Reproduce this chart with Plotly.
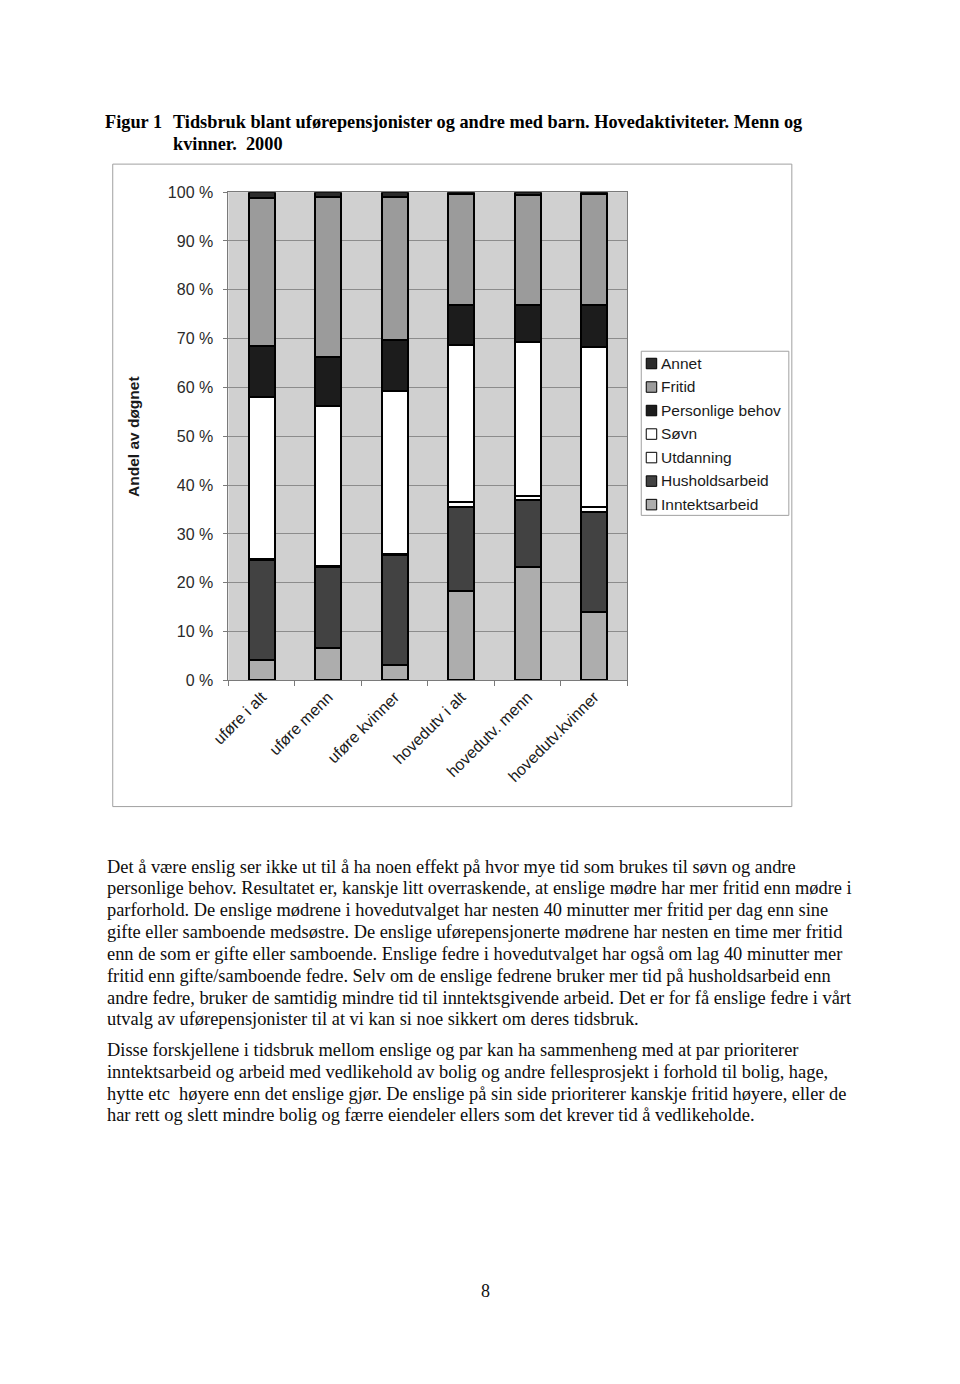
import plotly.graph_objects as go

W, H = 960, 1384
# empirical placement correction observed in the rendered page
SX, OX = 0.984, 15.0
SY, OY = 0.987, 8.0

categories = ["uføre i alt", "uføre menn", "uføre kvinner",
              "hovedutv i alt", "hovedutv. menn", "hovedutv.kvinner"]

inntektsarbeid = [4.2, 6.7, 3.1, 18.3, 23.2, 14.0]
husholdsarbeid = [20.4, 16.6, 22.5, 17.3, 13.8, 20.6]
utdanning = [0.3, 0.2, 0.2, 0.9, 0.7, 1.0]
sovn = [33.2, 32.8, 33.5, 32.2, 31.6, 32.7]
personlige_behov = [10.4, 10.0, 10.4, 8.1, 7.5, 8.5]
fritid = [30.3, 32.7, 29.3, 22.8, 22.7, 22.9]
annet = [1.2, 1.0, 1.0, 0.4, 0.5, 0.3]

series_names = ["Inntektsarbeid", "Husholdsarbeid", "Utdanning", "Søvn",
                "Personlige behov", "Fritid", "Annet"]
series_values = [inntektsarbeid, husholdsarbeid, utdanning, sovn,
                 personlige_behov, fritid, annet]
series_colors = ["#adadad", "#424242", "#ffffff", "#ffffff",
                 "#1c1c1c", "#9b9b9b", "#2c2c2c"]

y_ticks = [0, 10, 20, 30, 40, 50, 60, 70, 80, 90, 100]
y_ticktext = [f"{v} %" for v in y_ticks]

title_label = "Figur 1"
title_line1 = "Tidsbruk blant uførepensjonister og andre med barn. Hovedaktiviteter. Menn og"
title_line2 = "kvinner.  2000"
y_title = "Andel av døgnet"

body_lines = [
    "Det å være enslig ser ikke ut til å ha noen effekt på hvor mye tid som brukes til søvn og andre",
    "personlige behov. Resultatet er, kanskje litt overraskende, at enslige mødre har mer fritid enn mødre i",
    "parforhold. De enslige mødrene i hovedutvalget har nesten 40 minutter mer fritid per dag enn sine",
    "gifte eller samboende medsøstre. De enslige uførepensjonerte mødrene har nesten en time mer fritid",
    "enn de som er gifte eller samboende. Enslige fedre i hovedutvalget har også om lag 40 minutter mer",
    "fritid enn gifte/samboende fedre. Selv om de enslige fedrene bruker mer tid på husholdsarbeid enn",
    "andre fedre, bruker de samtidig mindre tid til inntektsgivende arbeid. Det er for få enslige fedre i vårt",
    "utvalg av uførepensjonister til at vi kan si noe sikkert om deres tidsbruk.",
    "Disse forskjellene i tidsbruk mellom enslige og par kan ha sammenheng med at par prioriterer",
    "inntektsarbeid og arbeid med vedlikehold av bolig og andre fellesprosjekt i forhold til bolig, hage,",
    "hytte etc  høyere enn det enslige gjør. De enslige på sin side prioriterer kanskje fritid høyere, eller de",
    "har rett og slett mindre bolig og færre eiendeler ellers som det krever tid å vedlikeholde.",
]
body_y = [866, 887, 909, 931, 953, 975, 997, 1018, 1049, 1071, 1093, 1114]


def px(x):
    return ((x - OX) / SX) / W


def py(y):
    return 1 - ((y - OY) / SY) / H


SERIF = "Liberation Serif, Times New Roman, serif"
SANS = "Liberation Sans, Arial, sans-serif"

fig = go.Figure()
for name, vals, col in zip(series_names, series_values, series_colors):
    fig.add_trace(go.Bar(
        x=categories, y=vals, name=name,
        marker=dict(color=col, line=dict(color="#000000", width=2)),
        width=0.39, showlegend=False,
    ))

plot_l, plot_r, plot_t, plot_b = 226, 626, 192, 680

shapes = [
    dict(type="rect", xref="paper", yref="paper",
         x0=px(110), x1=px(791), y0=py(806), y1=py(164),
         line=dict(color="#a0a0a0", width=1), fillcolor="rgba(0,0,0,0)",
         layer="below"),
    dict(type="rect", xref="paper", yref="paper",
         x0=px(640), x1=px(788), y0=py(515), y1=py(351),
         line=dict(color="#a0a0a0", width=1), fillcolor="#ffffff"),
]

ann = []
leg_y0, leg_step = 363, 23.5
for i, (name, col) in enumerate(zip(reversed(series_names), reversed(series_colors))):
    cy = leg_y0 + i * leg_step
    shapes.append(dict(type="rect", xref="paper", yref="paper",
                       x0=px(645), x1=px(655.5), y0=py(cy + 5.5), y1=py(cy - 5),
                       line=dict(color="#000000", width=1), fillcolor=col))
    ann.append(dict(text=name, x=px(658), y=py(cy), xanchor="left", yanchor="middle",
                    xref="paper", yref="paper", showarrow=False,
                    font=dict(family=SANS, size=15.5, color="#1a1a1a")))

fig.update_layout(
    width=W, height=H, autosize=False,
    margin=dict(l=0, r=0, t=0, b=0),
    paper_bgcolor="#ffffff",
    plot_bgcolor="#d0d0d0",
    barmode="stack",
    showlegend=False,
    xaxis=dict(
        domain=[px(plot_l), px(plot_r)],
        tickangle=-45,
        tickfont=dict(family=SANS, size=16, color="#1a1a1a"),
        showline=True, linecolor="#7a7a7a", linewidth=1, mirror=True,
        ticks="outside", tickson="boundaries", ticklen=5, tickcolor="#7a7a7a",
        showgrid=False, fixedrange=True,
    ),
    yaxis=dict(
        domain=[py(plot_b), py(plot_t)],
        range=[0, 100], tickmode="array", tickvals=y_ticks, ticktext=y_ticktext,
        tickfont=dict(family=SANS, size=16, color="#2a2a2a"),
        showline=True, linecolor="#7a7a7a", linewidth=1, mirror=True,
        ticks="outside", ticklen=4, tickcolor="#7a7a7a", ticklabelstandoff=7,
        showgrid=True, gridcolor="#8c8c8c", gridwidth=1,
        zeroline=False, fixedrange=True,
    ),
    shapes=shapes,
)

ann.append(dict(text="<b>" + y_title + "</b>", x=px(131), y=py(436),
                xanchor="center", yanchor="middle",
                xref="paper", yref="paper", showarrow=False, textangle=-90,
                font=dict(family=SANS, size=15.5, color="#1a1a1a")))
ann.append(dict(text="<b>" + title_label + "</b>", x=px(100), y=py(122),
                xanchor="left", yanchor="middle",
                xref="paper", yref="paper", showarrow=False,
                font=dict(family=SERIF, size=18.3, color="#000000")))
ann.append(dict(text="<b>" + title_line1 + "</b>", x=px(168), y=py(122),
                xanchor="left", yanchor="middle",
                xref="paper", yref="paper", showarrow=False,
                font=dict(family=SERIF, size=18.3, color="#000000")))
ann.append(dict(text="<b>" + title_line2 + "</b>", x=px(168), y=py(144),
                xanchor="left", yanchor="middle",
                xref="paper", yref="paper", showarrow=False,
                font=dict(family=SERIF, size=18.3, color="#000000")))
for line, yy in zip(body_lines, body_y):
    ann.append(dict(text=line, x=px(102), y=py(yy), xanchor="left", yanchor="middle",
                    xref="paper", yref="paper", showarrow=False,
                    font=dict(family=SERIF, size=18.4, color="#0d0d0d")))
ann.append(dict(text="8", x=px(484), y=py(1290), xanchor="center", yanchor="middle",
                xref="paper", yref="paper", showarrow=False,
                font=dict(family=SERIF, size=18, color="#111111")))
fig.update_layout(annotations=ann)

fig.write_html("out.html")
